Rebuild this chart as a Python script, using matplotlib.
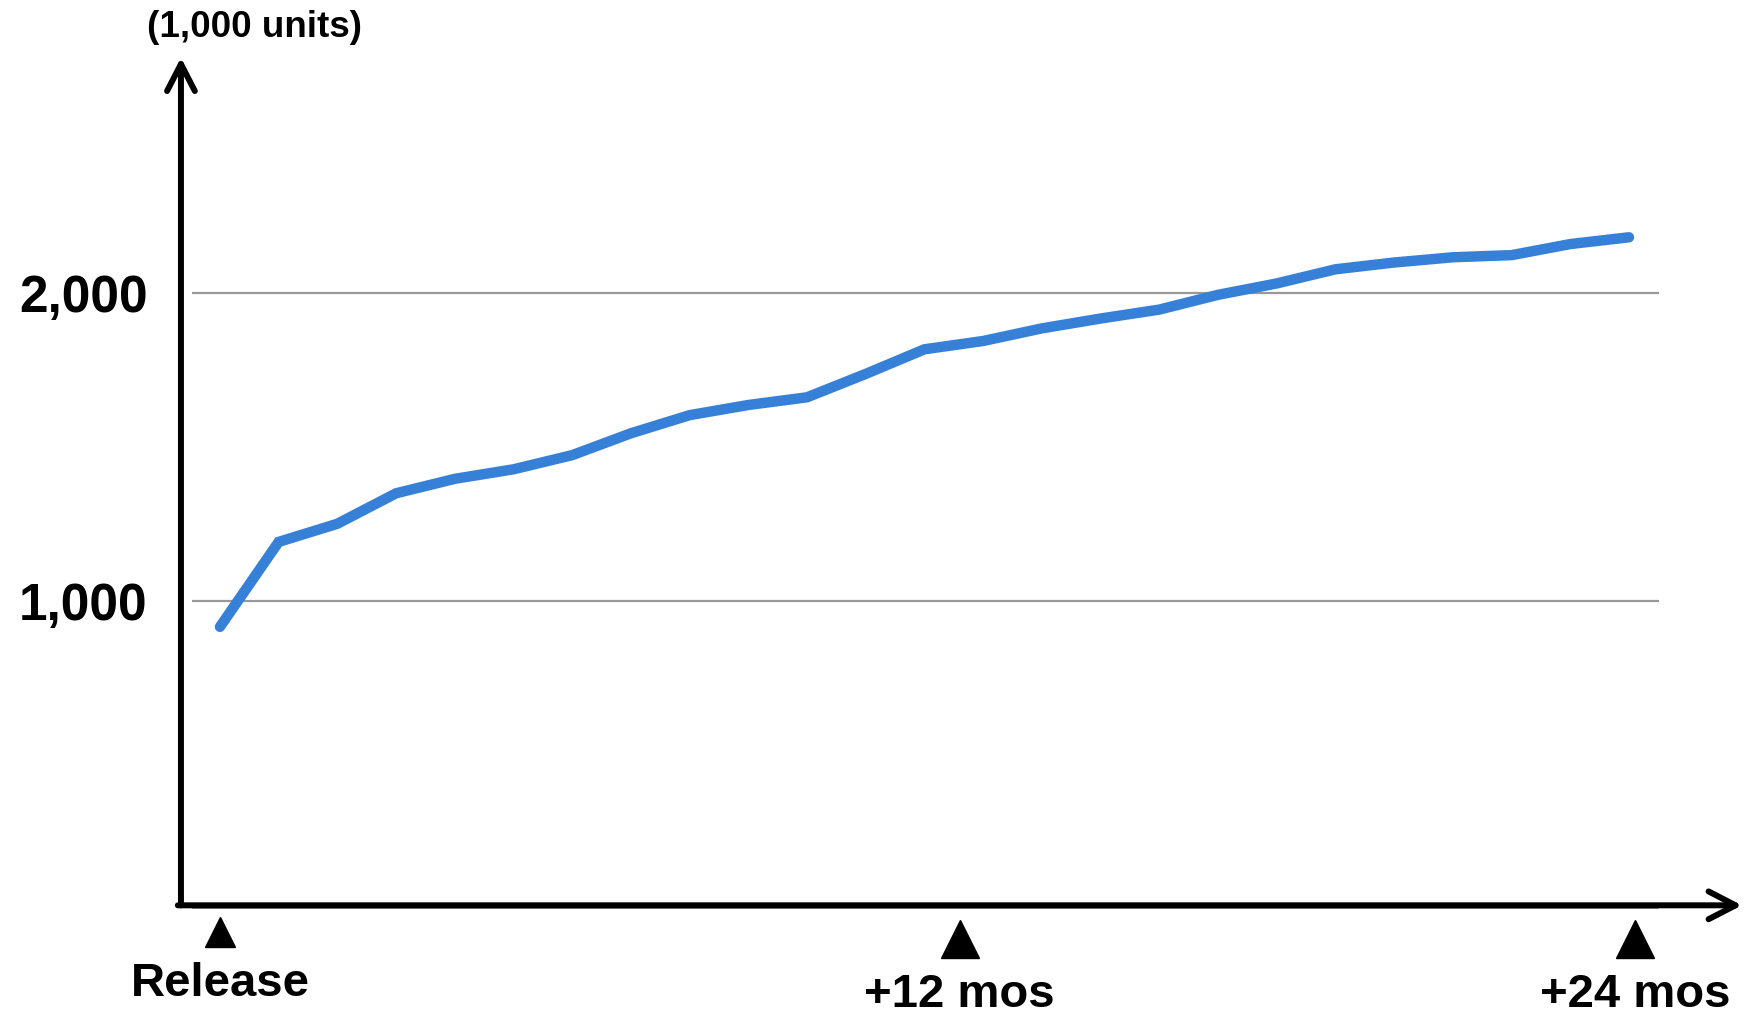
import matplotlib
matplotlib.use("Agg")
import matplotlib.pyplot as plt

plt.rcParams['font.family'] = ['Liberation Sans', 'DejaVu Sans']
plt.rcParams['font.weight'] = 'bold'

# monthly units (thousands), month 0 = release
months = list(range(25))
units = [916, 1192, 1251, 1350, 1397, 1428, 1474, 1545, 1604, 1637, 1662, 1738, 1818,
         1845, 1886, 1918, 1947, 1995, 2032, 2078, 2100, 2117, 2124, 2160, 2182]

y_ticks = [1000, 2000]
y_tick_labels = ['1,000', '2,000']

milestone_pos = [0, 12.6, 24.1]
milestone_labels = ['Release', '+12 mos', '+24 mos']


def main():
    fig = plt.figure(figsize=(17.45, 10.16), dpi=100)
    ax = fig.add_axes([0.1037, 0.1056, 0.8946, 0.8344])
    ax.set_xlim(-0.664, 25.925)
    ax.set_ylim(0, 2755)

    for s in ax.spines.values():
        s.set_visible(False)
    ax.set_xticks([])
    ax.set_yticks(y_ticks)
    ax.set_yticklabels(y_tick_labels, fontsize=37, fontweight='bold')
    ax.tick_params(axis='y', length=0, pad=24)

    # gridlines
    ax.hlines([0] + y_ticks, -0.477, 24.51, color='#999999', lw=1.6, zorder=1)

    ax.plot(months, units, color='#3680D8', lw=7.5, solid_capstyle='round',
            solid_joinstyle='miter', zorder=3, clip_on=False)

    # axis arrows
    arrow = dict(arrowstyle='->, head_length=0.97, head_width=0.5', lw=4.3,
                 color='black', shrinkA=0, shrinkB=0, mutation_scale=20)
    ax.annotate('', xy=(0, 1.004), xytext=(0, 0.004), xycoords='axes fraction',
                textcoords='axes fraction', arrowprops=arrow)
    ax.annotate('', xy=(1, 0.004), xytext=(-0.002, 0.004), xycoords='axes fraction',
                textcoords='axes fraction', arrowprops=arrow)

    # milestones
    tr = ax.get_xaxis_transform()
    ax.plot(milestone_pos[:1], [-0.028], marker='^', ms=21, color='black',
            transform=tr, clip_on=False, ls='none')
    ax.plot(milestone_pos[1:], [-0.036] * 2, marker='^', ms=28, color='black',
            transform=tr, clip_on=False, ls='none')
    ax.text(milestone_pos[0], -0.0885, milestone_labels[0], transform=tr,
            ha='center', va='center', fontsize=34, fontweight='bold')
    for p, lab in zip(milestone_pos[1:], milestone_labels[1:]):
        ax.text(p, -0.102, lab, transform=tr, ha='center', va='center',
                fontsize=34, fontweight='bold')

    fig.text(0.146, 0.9734, '(1,000 units)', ha='center', va='center',
             fontsize=26.5, fontweight='bold')

    fig.savefig('out.png', dpi=100)


if __name__ == "__main__":
    main()
